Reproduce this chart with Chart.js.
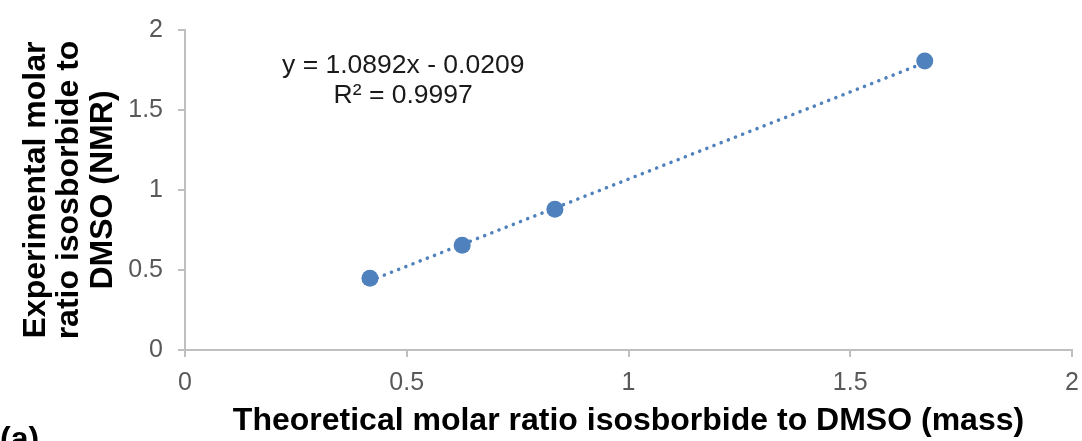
<!DOCTYPE html>
<html>
<head>
<meta charset="utf-8">
<script src="https://cdn.jsdelivr.net/npm/chart.js@4.4.1/dist/chart.umd.min.js"></script>
<style>
  html, body { margin: 0; padding: 0; background: #fff; }
  #wrap { width: 1082px; height: 441px; }
</style>
</head>
<body>
<div id="wrap"><canvas id="c" width="1082" height="441"></canvas></div>
<script>
// data
const theoretical = [0.417, 0.625, 0.834, 1.668];
const experimental = [0.449, 0.655, 0.879, 1.806];
const xTicks = [0, 0.5, 1, 1.5, 2];
const yTicks = [0, 0.5, 1, 1.5, 2];

// trendline from the equation shown on the chart
const slope = 1.0892;
const intercept = -0.0209;
const eqText = ['y = 1.0892x - 0.0209', 'R\u00b2 = 0.9997'];
const eqPos = { x: 0.492, y: 1.682 };

const blue = '#4F81BD';
const axisGrey = '#BFBFBF';
const fontFam = '"Liberation Sans", Arial, sans-serif';

const xMin = Math.min(...theoretical);
const xMax = Math.max(...theoretical);
const trend = [
    { x: xMin, y: slope * xMin + intercept },
    { x: xMax, y: slope * xMax + intercept }
];

// text drawn on top: equation and panel letter
const textPlugin = {
    id: 'texts',
    afterDraw(chart) {
        const ctx = chart.ctx;
        const xs = chart.scales.x, ys = chart.scales.y;
        ctx.save();
        ctx.fillStyle = '#1a1a1a';
        ctx.font = '26.5px ' + fontFam;
        ctx.textAlign = 'center';
        ctx.textBaseline = 'middle';
        const cx = xs.getPixelForValue(eqPos.x);
        const cy = ys.getPixelForValue(eqPos.y);
        ctx.fillText(eqText[0], cx, cy - 15);
        ctx.fillText(eqText[1], cx, cy + 15);
        ctx.fillStyle = '#000';
        ctx.font = 'bold 32px ' + fontFam;
        ctx.textAlign = 'left';
        ctx.textBaseline = 'alphabetic';
        ctx.fillText('(a)', 0, 449);
        ctx.restore();
    }
};

const tickFmt = v => String(Math.round(v * 10) / 10);

const ctx = document.getElementById('c').getContext('2d');
new Chart(ctx, {
    type: 'scatter',
    data: {
        datasets: [
            {
                label: 'trend',
                data: trend,
                showLine: true,
                borderColor: blue,
                borderWidth: 3.5,
                borderDash: [0.1, 7.6],
                borderCapStyle: 'round',
                pointRadius: 0,
                fill: false
            },
            {
                label: 'data',
                data: theoretical.map((x, i) => ({ x: x, y: experimental[i] })),
                backgroundColor: blue,
                borderColor: blue,
                pointRadius: 8.5,
                pointBorderWidth: 0
            }
        ]
    },
    options: {
        responsive: false,
        animation: false,
        layout: { padding: { top: 29, right: 10, left: 0, bottom: 0 } },
        plugins: {
            legend: { display: false },
            tooltip: { enabled: false }
        },
        scales: {
            x: {
                type: 'linear',
                min: 0,
                max: 2,
                afterBuildTicks: s => { s.ticks = xTicks.map(v => ({ value: v })); },
                afterFit: s => { s.height = 91; s.paddingLeft = 0; s.paddingRight = 0; },
                border: { color: axisGrey, width: 2 },
                grid: { drawOnChartArea: false, tickLength: 7, color: axisGrey, lineWidth: 2 },
                ticks: { color: '#595959', font: { family: fontFam, size: 25 }, padding: 11, callback: tickFmt },
                title: {
                    display: true,
                    text: 'Theoretical molar ratio isosborbide to DMSO (mass)',
                    color: '#000',
                    font: { family: fontFam, size: 32, weight: 'bold' },
                    padding: { top: 0, bottom: 1 }
                }
            },
            y: {
                type: 'linear',
                min: 0,
                max: 2,
                afterBuildTicks: s => { s.ticks = yTicks.map(v => ({ value: v })); },
                afterFit: s => { s.width = 185; },
                border: { color: axisGrey, width: 2 },
                grid: { drawOnChartArea: false, tickLength: 7, color: axisGrey, lineWidth: 2 },
                ticks: { color: '#595959', font: { family: fontFam, size: 25 }, padding: 15, callback: tickFmt },
                title: {
                    display: true,
                    text: ['Experimental molar', 'ratio isosborbide to', 'DMSO (NMR)'],
                    color: '#000',
                    font: { family: fontFam, size: 32, weight: 'bold', lineHeight: 1.05 },
                    padding: { top: 19, bottom: 0 }
                }
            }
        }
    },
    plugins: [textPlugin]
});
</script>
</body>
</html>
